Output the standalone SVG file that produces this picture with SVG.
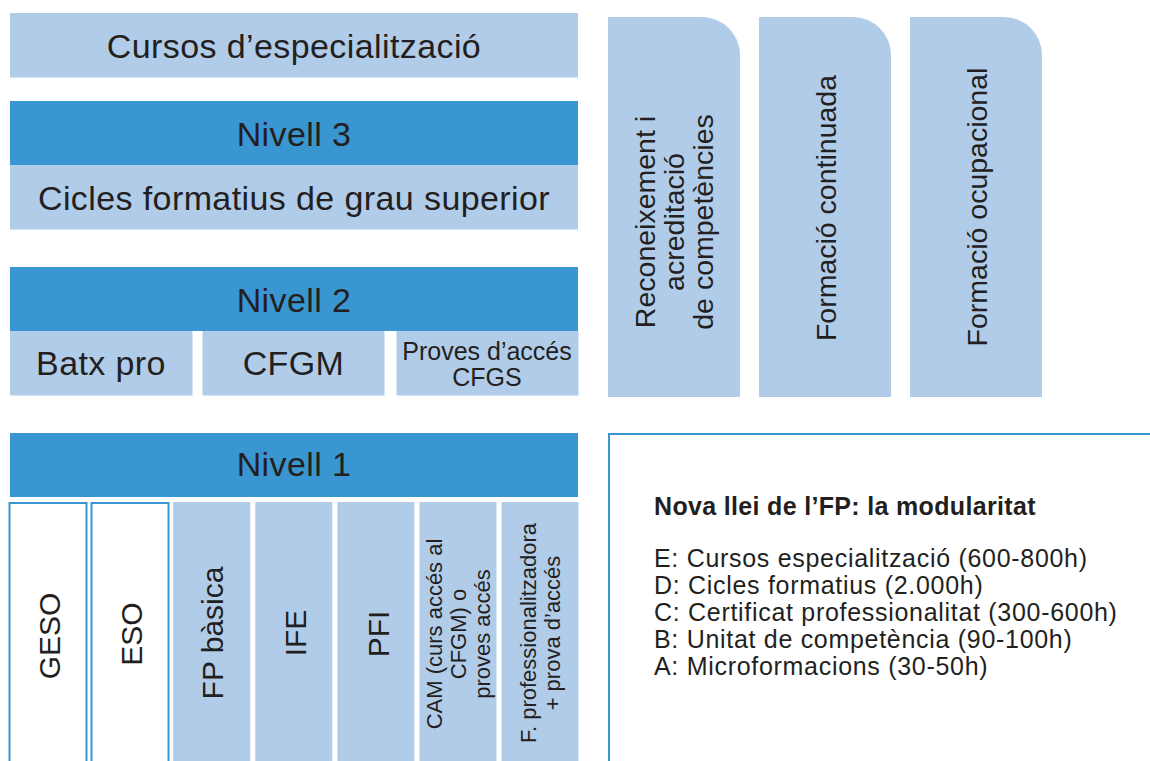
<svg xmlns="http://www.w3.org/2000/svg" width="1150" height="761" viewBox="0 0 1150 761">
<style>
.lt{fill:#b1cce9}
.dk{fill:#3a96d0}
.ol{fill:#ffffff;stroke:#3a96d0;stroke-width:2}
text{fill:#231f20;font-family:"Liberation Sans",Arial,sans-serif}
.h{font-size:34px;text-anchor:middle;letter-spacing:0.4px}
.m{font-size:25px;text-anchor:middle}
.v{font-size:30px;text-anchor:middle}
.s{font-size:22px;text-anchor:middle}
.p{font-size:28.5px;text-anchor:middle}
.b{font-size:25px;font-weight:bold;letter-spacing:0.33px}
.l{font-size:25px;letter-spacing:0.7px}
</style>
<rect width="1150" height="761" fill="#ffffff"/>
<g id="cursos"><rect class="lt" x="10" y="13" width="568" height="64.5"/><text class="h" x="294" y="57.5">Cursos d’especialització</text></g>
<g id="nivell3"><rect class="dk" x="10" y="101" width="568" height="64"/><text class="h" x="294" y="145.5">Nivell 3</text></g>
<g id="cicles"><rect class="lt" x="10" y="165" width="568" height="64.5"/><text class="h" x="294" y="209.5">Cicles formatius de grau superior</text></g>
<g id="nivell2"><rect class="dk" x="10" y="267" width="568" height="64"/><text class="h" x="294" y="311.5">Nivell 2</text></g>
<g id="batx"><rect class="lt" x="10" y="331" width="182.5" height="64.5"/><text class="h" x="101" y="375">Batx pro</text></g>
<g id="cfgm"><rect class="lt" x="202.5" y="331" width="182" height="64.5"/><text class="h" x="293.5" y="375">CFGM</text></g>
<g id="proves"><rect class="lt" x="396.5" y="331" width="182" height="64.5"/><text class="m" x="487" y="360">Proves d’accés</text><text class="m" x="487" y="386">CFGS</text></g>
<g id="nivell1"><rect class="dk" x="10" y="433" width="568" height="64"/><text class="h" x="294" y="476">Nivell 1</text></g>
<g id="geso"><rect class="ol" x="9.5" y="503" width="77" height="270"/><text class="v" transform="translate(60,636) rotate(-90)">GESO</text></g>
<g id="eso"><rect class="ol" x="91.5" y="503" width="77" height="270"/><text class="v" transform="translate(142,634) rotate(-90)">ESO</text></g>
<g id="fpbasica"><rect class="lt" x="173.2" y="502" width="77" height="270"/><text class="v" transform="translate(223,633) rotate(-90)">FP bàsica</text></g>
<g id="ife"><rect class="lt" x="255.3" y="502" width="77" height="270"/><text class="v" transform="translate(306,633) rotate(-90)">IFE</text></g>
<g id="pfi"><rect class="lt" x="337.4" y="502" width="77" height="270"/><text class="v" transform="translate(389,634) rotate(-90)">PFI</text></g>
<g id="cam"><rect class="lt" x="419.5" y="502" width="77" height="270"/>
<text class="s" transform="translate(442,634) rotate(-90)">CAM (curs accés al</text>
<text class="s" transform="translate(466,634) rotate(-90)">CFGM) o</text>
<text class="s" transform="translate(490,634) rotate(-90)">proves accés</text></g>
<g id="fprof"><rect class="lt" x="501.5" y="502" width="77" height="270"/>
<text class="s" transform="translate(536,633) rotate(-90)">F. professionalitzadora</text>
<text class="s" transform="translate(560,633) rotate(-90)">+ prova d’accés</text></g>
<g id="reconeixement"><path class="lt" d="M608,17 H702 A38,38 0 0 1 740,55 V397 H608 Z"/>
<text class="p" transform="translate(655,222) rotate(-90)">Reconeixement i</text>
<text class="p" transform="translate(684,222) rotate(-90)">acreditació</text>
<text class="p" transform="translate(713,222) rotate(-90)">de competències</text></g>
<g id="continuada"><path class="lt" d="M759,17 H853 A38,38 0 0 1 891,55 V397 H759 Z"/>
<text class="p" transform="translate(836,208) rotate(-90)">Formació continuada</text></g>
<g id="ocupacional"><path class="lt" d="M910,17 H1004 A38,38 0 0 1 1042,55 V397 H910 Z"/>
<text class="p" transform="translate(987,207) rotate(-90)">Formació ocupacional</text></g>
<g id="modularitat"><path d="M609,761 V434 H1150" fill="none" stroke="#3a96d0" stroke-width="2"/>
<text class="b" x="654" y="515">Nova llei de l’FP: la modularitat</text>
<text class="l" x="654" y="566.5">E: Cursos especialització (600-800h)</text>
<text class="l" x="654" y="593.5">D: Cicles formatius (2.000h)</text>
<text class="l" x="654" y="620.5">C: Certificat professionalitat (300-600h)</text>
<text class="l" x="654" y="647.5">B: Unitat de competència (90-100h)</text>
<text class="l" x="654" y="674.5">A: Microformacions (30-50h)</text></g>
</svg>
